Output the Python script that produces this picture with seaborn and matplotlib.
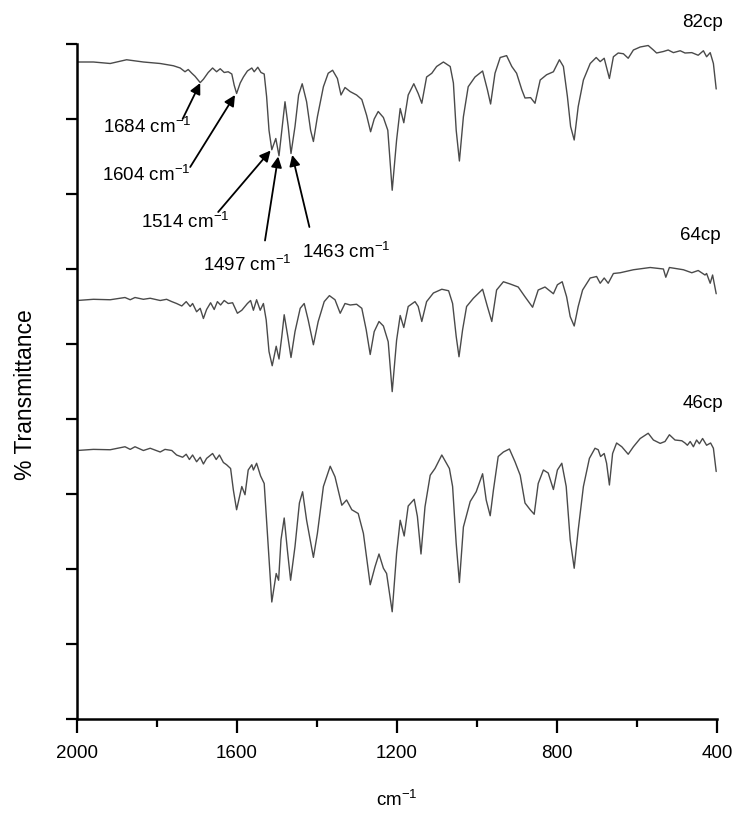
import numpy as np
import pandas as pd
import matplotlib
matplotlib.use("Agg")
import matplotlib.pyplot as plt
import seaborn as sns

# ---------------- data ----------------
wn_82 = [2000, 1959, 1917, 1876, 1834, 1792, 1759, 1742, 1730, 1722, 1713, 1705, 1692, 1684, 1672,
         1661, 1651, 1642, 1632, 1622, 1613, 1607, 1601, 1592, 1584, 1574, 1563, 1557, 1548, 1540,
         1532, 1526, 1520, 1513, 1503, 1495, 1487, 1480, 1472, 1465, 1455, 1446, 1437, 1426, 1416,
         1409, 1399, 1384, 1372, 1361, 1349, 1340, 1330, 1317, 1301, 1288, 1276, 1266, 1257, 1247,
         1234, 1223, 1212, 1201, 1192, 1183, 1172, 1158, 1147, 1138, 1126, 1113, 1101, 1084, 1067,
         1059, 1052, 1044, 1034, 1022, 1005, 986, 974, 966, 955, 942, 926, 913, 901, 888, 880, 866,
         855, 842, 826, 809, 794, 784, 774, 766, 757, 747, 734, 717, 702, 692, 682, 669, 659, 647,
         634, 622, 609, 592, 572, 559, 551, 534, 522, 509, 492, 480, 463, 447, 434, 426, 417, 409, 402]
t_82 = [87.6, 87.6, 87.4, 87.9, 87.6, 87.4, 87.1, 86.8, 86.3, 86.6, 86.1, 85.7, 84.85, 85.3, 86.2,
        86.8, 86.3, 86.7, 86.2, 86.3, 86.0, 84.5, 83.4, 84.8, 85.6, 86.4, 86.8, 86.3, 86.9, 86.2,
        86.0, 83.0, 78.5, 75.9, 77.4, 75.1, 79.0, 82.3, 79.0, 75.4, 79.0, 83.2, 84.7, 82.3, 78.5,
        77.0, 80.3, 84.3, 86.1, 86.5, 85.4, 83.2, 84.2, 83.65, 83.2, 82.6, 80.5, 78.3, 80.0, 81.0,
        80.2, 78.5, 70.5, 77.2, 81.4, 79.5, 83.2, 84.7, 83.4, 82.1, 85.6, 86.1, 87.0, 87.6, 87.0,
        84.8, 78.5, 74.4, 80.3, 84.3, 85.6, 86.4, 83.9, 82.0, 86.1, 88.2, 88.45, 87.0, 86.1, 83.9, 82.8, 82.85,
        82.1, 85.2, 85.9, 86.3, 87.9, 87.0, 83.0, 79.0, 77.2, 81.65, 85.2, 87.4, 88.2, 87.65, 88.1, 85.4, 88.3, 88.8,
        88.7, 88.1, 89.2, 89.6, 89.8, 89.2, 88.8, 89.0, 89.2, 88.85, 89.1, 88.8, 88.85, 88.5, 89.1, 88.3, 88.85, 87.4, 84.0]

wn_64 = [2000, 1959, 1917, 1880, 1867, 1855, 1834, 1817, 1792, 1776, 1763, 1751, 1738, 1727, 1717,
         1711, 1701, 1692, 1684, 1676, 1666, 1657, 1649, 1641, 1632, 1622, 1611, 1599, 1588, 1574,
         1566, 1559, 1551, 1542, 1534, 1527, 1520, 1512, 1502, 1495, 1488, 1482, 1473, 1465, 1455,
         1442, 1432, 1422, 1409, 1397, 1382, 1369, 1355, 1342, 1330, 1317, 1301, 1288, 1277, 1267,
         1257, 1245, 1234, 1222, 1212, 1201, 1192, 1183, 1172, 1155, 1147, 1138, 1126, 1109, 1088,
         1071, 1061, 1052, 1045, 1036, 1026, 1009, 986, 974, 963, 951, 934, 917, 897, 880, 861, 847,
         830, 809, 799, 787, 776, 767, 757, 747, 736, 717, 701, 692, 682, 672, 659, 642, 609, 567,
         534, 528, 519, 484, 463, 447, 430, 426, 417, 411, 402]
t_64 = [55.8, 55.96, 55.9, 56.2, 55.9, 56.2, 55.96, 56.1, 55.8, 55.96, 55.65, 55.4, 55.07, 55.65, 55.0,
        55.4, 54.3, 54.76, 53.4, 54.6, 55.5, 54.6, 55.65, 55.2, 55.8, 55.4, 55.5, 54.1, 54.5, 55.4,
        55.8, 54.5, 55.9, 54.5, 55.4, 53.2, 49.0, 47.1, 49.7, 48.0, 51.0, 53.9, 51.0, 48.2, 51.65,
        54.76, 55.4, 53.2, 49.9, 53.0, 55.65, 56.45, 55.9, 54.1, 55.4, 55.2, 55.3, 54.76, 51.9, 48.6,
        51.65, 53.0, 52.4, 50.3, 43.65, 50.5, 53.8, 52.2, 55.0, 55.65, 55.0, 53.0, 55.65, 56.8, 57.3,
        57.1, 55.4, 51.0, 48.3, 51.9, 55.0, 56.1, 57.3, 55.0, 53.0, 57.2, 58.3, 58.0, 57.6, 56.3, 54.9, 57.2,
        57.6, 56.7, 57.9, 58.3, 56.3, 53.65, 52.4, 55.0, 57.2, 58.8, 59.0, 58.1, 58.8, 58.1, 59.4, 59.5, 59.9, 60.2,
        60.0, 58.9, 60.2, 59.9, 59.5, 59.8, 59.2, 59.4, 58.1, 59.2, 56.7]

wn_46 = [2000, 1959, 1917, 1880, 1867, 1855, 1834, 1817, 1792, 1780, 1763, 1751, 1736, 1727, 1719,
         1711, 1701, 1692, 1684, 1676, 1661, 1652, 1644, 1634, 1626, 1616, 1609, 1601, 1588, 1580,
         1572, 1563, 1559, 1551, 1541, 1532, 1524, 1513, 1502, 1496, 1490, 1482, 1474, 1466, 1455,
         1444, 1436, 1426, 1417, 1409, 1399, 1384, 1367, 1355, 1338, 1326, 1313, 1297, 1284, 1267,
         1255, 1245, 1234, 1226, 1212, 1201, 1192, 1182, 1172, 1157, 1149, 1140, 1130, 1117, 1105,
         1088, 1069, 1061, 1052, 1044, 1034, 1017, 1002, 986, 977, 967, 959, 947, 934, 919, 905, 892,
         880, 867, 857, 847, 834, 822, 809, 799, 788, 777, 767, 757, 747, 734, 719, 705, 697, 691,
         682, 676, 669, 661, 651, 638, 622, 609, 592, 572, 559, 542, 530, 519, 505, 488, 480, 474,
         467, 459, 451, 444, 436, 426, 416, 409, 402]
t_46 = [35.8, 35.95, 35.9, 36.3, 35.95, 36.3, 35.8, 36.1, 35.6, 35.95, 35.8, 35.2, 34.9, 35.3, 34.6,
        35.2, 34.3, 34.9, 34.0, 34.75, 35.4, 34.6, 35.2, 34.2, 33.9, 33.4, 30.5, 27.9, 31.0, 29.9,
        33.2, 33.9, 33.2, 34.1, 32.4, 31.4, 24.75, 15.6, 19.4, 18.5, 23.9, 26.8, 22.5, 18.5, 23.0,
        28.8, 30.3, 26.5, 23.9, 21.55, 24.75, 31.0, 33.7, 32.3, 28.5, 29.2, 27.9, 27.4, 24.75, 17.9,
        20.3, 22.0, 20.1, 19.4, 14.3, 22.1, 26.5, 24.4, 28.4, 29.3, 27.0, 22.0, 28.3, 32.5, 33.4,
        35.2, 33.4, 31.0, 23.4, 18.2, 25.6, 29.0, 30.3, 32.7, 29.2, 27.1, 30.5, 35.0, 35.6, 36.0, 34.3, 32.5,
        28.8, 27.9, 27.3, 31.4, 33.2, 32.8, 30.6, 33.2, 34.1, 31.0, 23.9, 20.1, 25.2, 31.0, 34.75, 36.1, 35.9, 35.0,
        35.4, 34.1, 31.2, 35.4, 36.8, 36.3, 35.3, 36.3, 37.4, 38.1, 37.2, 36.75, 37.0, 37.9, 37.2, 37.1, 36.8, 36.5,
        37.0, 36.3, 37.2, 36.7, 37.4, 36.5, 36.8, 36.1, 33.0]

sample_names = ["82cp", "64cp", "46cp"]
sample_label_wn = [437, 442, 435]
sample_label_t = [92.9, 64.4, 42.0]

peak_labels = ["1684", "1604", "1514", "1497", "1463"]
peak_text_pos = [(1825, 78.9), (1827, 72.5), (1730, 66.3), (1575, 60.5), (1327, 62.3)]
peak_arrow_tail = [(1736, 80.0), (1717, 73.6), (1647, 67.6), (1530, 63.8), (1419, 65.6)]
peak_arrow_head = [(1692, 84.8), (1605, 83.2), (1516, 75.8), (1497, 75.0), (1462, 75.2)]

x_major = [2000, 1600, 1200, 800, 400]
x_minor = [1800, 1400, 1000, 600]
y_ticks = list(range(0, 91, 10))

# ---------------- styling ----------------
sns.set_style("ticks")
plt.rcParams["font.family"] = ["Liberation Sans", "DejaVu Sans"]
plt.rcParams["mathtext.default"] = "regular"
plt.rcParams["axes.unicode_minus"] = False
for k in ["text.color", "axes.labelcolor", "xtick.color", "ytick.color", "axes.edgecolor"]:
    plt.rcParams[k] = "black"

df = pd.concat([
    pd.DataFrame({"wn": wn_82, "T": t_82, "sample": "82cp"}),
    pd.DataFrame({"wn": wn_64, "T": t_64, "sample": "64cp"}),
    pd.DataFrame({"wn": wn_46, "T": t_46, "sample": "46cp"}),
])

fig = plt.figure(figsize=(7.33, 8.15), dpi=100)
ax = fig.add_axes([77 / 733, 1 - 719 / 815, 640 / 733, 675 / 815])

sns.lineplot(data=df, x="wn", y="T", hue="sample", units="sample", estimator=None,
             palette=["#4a4a4a"] * 3, linewidth=1.0, legend=False, ax=ax)

FS = 13.5
ax.set_xlim(2000, 400)
ax.set_ylim(0, 90)
ax.set_xticks(x_major)
ax.set_xticks(x_minor, minor=True)
ax.set_xticklabels([str(v) for v in x_major], fontsize=FS)
ax.set_yticks(y_ticks)
ax.set_yticklabels([])
ax.tick_params(axis="x", which="major", direction="out", length=10, width=1.6, pad=9, colors="black")
ax.tick_params(axis="x", which="minor", direction="out", length=6, width=1.6, colors="black")
ax.tick_params(axis="y", which="major", direction="out", length=8, width=1.6, colors="black")
for s in ["top", "right"]:
    ax.spines[s].set_visible(False)
for s in ["left", "bottom"]:
    ax.spines[s].set_linewidth(1.8)
    ax.spines[s].set_color("black")

ax.set_xlabel("cm$^{-1}$", fontsize=FS, color="black")
ax.xaxis.set_label_coords(0.5, -0.105)
ax.set_ylabel("% Transmittance", fontsize=16.5, color="black")
ax.yaxis.set_label_coords(-0.062, 0.48)

for name, xw, yt in zip(sample_names, sample_label_wn, sample_label_t):
    ax.text(xw, yt, name, fontsize=FS, ha="center", va="center", clip_on=False, color="black")

for lab, tp, tail, head in zip(peak_labels, peak_text_pos, peak_arrow_tail, peak_arrow_head):
    ax.text(tp[0], tp[1], lab + " cm$^{-1}$", fontsize=FS, ha="center", va="center", color="black")
    ax.annotate("", xy=head, xytext=tail,
                arrowprops=dict(arrowstyle="-|>", color="black", lw=1.3,
                                mutation_scale=16, shrinkA=0, shrinkB=0))

fig.savefig("out.png", dpi=100)
